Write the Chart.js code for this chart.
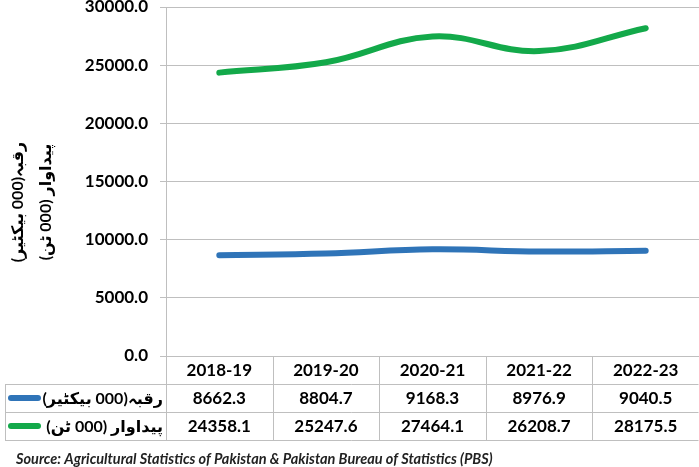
<!DOCTYPE html>
<html>
<head>
<meta charset="utf-8">
<script src="https://cdn.jsdelivr.net/npm/chart.js@4.4.1/dist/chart.umd.min.js"></script>
<style>
  html, body { margin: 0; padding: 0; background: #fff; }
  #wrap { width: 699px; height: 467px; position: relative; }
</style>
</head>
<body>
<div id="wrap"><canvas id="chart"></canvas></div>
<script>
const years = ['2018-19', '2019-20', '2020-21', '2021-22', '2022-23'];
const areaLabel = 'رقبہ(000 بیکٹیر)';
const prodLabel = 'پیداوار (000 ٹن)';
const area = [8662.3, 8804.7, 9168.3, 8976.9, 9040.5];
const production = [24358.1, 25247.6, 27464.1, 26208.7, 28175.5];
const yTicks = [0, 5000, 10000, 15000, 20000, 25000, 30000];
const sourceNote = 'Source: Agricultural Statistics of Pakistan & Pakistan Bureau of Statistics (PBS)';

const FONT = "Lato, 'DejaVu Sans', sans-serif";
const BLUE = '#2f74b8';
const GREEN = '#13a94a';
const GRID = '#bfbfbf';

// draws the data table under the plot, the y title and the source line
const tablePlugin = {
  id: 'dataTable',
  afterDraw(chart) {
    const { ctx, chartArea: ca, scales } = chart;
    const x = scales.x;
    const rowH = 28;
    const top = ca.bottom;
    const left = 5, right = ca.right - 0.5;
    const edges = [ca.left];
    for (let i = 0; i < years.length - 1; i++) {
      edges.push((x.getPixelForValue(i) + x.getPixelForValue(i + 1)) / 2);
    }
    edges.push(right);

    ctx.save();
    ctx.strokeStyle = GRID;
    ctx.lineWidth = 1;
    ctx.beginPath();
    ctx.moveTo(left, top + rowH + 0.5); ctx.lineTo(right, top + rowH + 0.5);
    ctx.moveTo(left, top + 2 * rowH + 0.5); ctx.lineTo(right, top + 2 * rowH + 0.5);
    ctx.moveTo(left, top + 3 * rowH + 0.5); ctx.lineTo(right, top + 3 * rowH + 0.5);
    edges.forEach(e => {
      const px = Math.round(e) + 0.5;
      ctx.moveTo(px, top); ctx.lineTo(px, top + 3 * rowH);
    });
    ctx.moveTo(left + 0.5, top + rowH); ctx.lineTo(left + 0.5, top + 3 * rowH);
    ctx.stroke();

    ctx.fillStyle = '#000';
    ctx.font = 'bold 17px ' + FONT;
    ctx.textAlign = 'center';
    ctx.textBaseline = 'middle';
    years.forEach((y, i) => {
      const cx = x.getPixelForValue(i);
      ctx.fillText(y, cx, top + rowH / 2 + 1);
      ctx.fillText(area[i].toFixed(1), cx, top + rowH * 1.5 + 1);
      ctx.fillText(production[i].toFixed(1), cx, top + rowH * 2.5 + 1);
    });

    // legend keys + series names
    const rows = [[areaLabel, BLUE], [prodLabel, GREEN]];
    rows.forEach(([label, col], r) => {
      const cy = top + rowH * (r + 1.5);
      ctx.strokeStyle = col;
      ctx.lineWidth = 6;
      ctx.lineCap = 'round';
      ctx.beginPath();
      ctx.moveTo(11, cy); ctx.lineTo(38, cy);
      ctx.stroke();
      ctx.font = 'bold 16px ' + FONT;
      ctx.textAlign = 'right';
      ctx.direction = 'rtl';
      ctx.fillText(label, ca.left - 3, cy + 1);
      ctx.direction = 'ltr';
      ctx.textAlign = 'center';
    });

    // rotated y axis title (two lines)
    ctx.font = 'bold 16px ' + FONT;
    ctx.textAlign = 'center';
    [areaLabel, prodLabel].forEach((t, i) => {
      ctx.save();
      ctx.translate(18 + i * 28, 202);
      ctx.rotate(-Math.PI / 2);
      ctx.fillText(t, 0, 0);
      ctx.restore();
    });

    ctx.font = 'italic bold 14.5px ' + FONT;
    ctx.fillStyle = '#222';
    ctx.textAlign = 'left';
    ctx.fillText(sourceNote, 16, 459);
    ctx.restore();
  }
};

new Chart(document.getElementById('chart'), {
  type: 'line',
  data: {
    labels: years,
    datasets: [
      { label: areaLabel, data: area, borderColor: BLUE, backgroundColor: BLUE },
      { label: prodLabel, data: production, borderColor: GREEN, backgroundColor: GREEN }
    ]
  },
  options: {
    responsive: true,
    maintainAspectRatio: false,
    animation: false,
    layout: { padding: { top: 7, bottom: 111, left: 0, right: 0 } },
    elements: {
      line: { borderWidth: 6, tension: 0.4, borderCapStyle: 'round' },
      point: { radius: 0 }
    },
    plugins: { legend: { display: false }, tooltip: { enabled: false } },
    scales: {
      x: { display: false, offset: true },
      y: {
        min: 0, max: 30000,
        afterBuildTicks: s => { s.ticks = yTicks.map(v => ({ value: v })); },
        afterFit: s => { s.width = 166; s.paddingTop = 0; s.paddingBottom = 0; },
        border: { color: GRID },
        grid: { color: GRID, tickLength: 6 },
        ticks: {
          color: '#000',
          padding: 12,
          font: { family: FONT, size: 17, weight: 'bold' },
          callback: v => Number(v).toFixed(1)
        }
      }
    }
  },
  plugins: [tablePlugin]
});
</script>
</body>
</html>
